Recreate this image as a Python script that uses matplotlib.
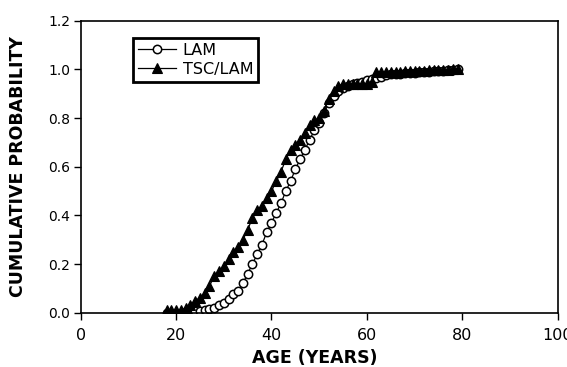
import numpy as np
import matplotlib
matplotlib.use("Agg")
import matplotlib.pyplot as plt

plt.rcParams['font.family'] = ['DejaVu Sans']

# ages (years) where the cumulative curves were read
ages = list(range(18, 80))

lam = [0.0, 0.0, 0.0, 0.0, 0.0, 0.0, 0.005, 0.008, 0.01, 0.015,
       0.02, 0.03, 0.04, 0.055, 0.075, 0.09, 0.12, 0.16, 0.2, 0.24,
       0.28, 0.33, 0.37, 0.41, 0.45, 0.5, 0.54, 0.59, 0.63, 0.67,
       0.71, 0.75, 0.78, 0.82, 0.86, 0.89, 0.91, 0.925, 0.93, 0.94,
       0.945, 0.95, 0.955, 0.96, 0.965, 0.97, 0.975, 0.98, 0.98, 0.982,
       0.984, 0.985, 0.986, 0.988, 0.99, 0.99, 0.992, 0.994, 0.995, 0.997,
       0.998, 1.0]

tsc_lam = [0.01, 0.01, 0.01, 0.01, 0.02, 0.03, 0.05, 0.06, 0.08, 0.11,
           0.15, 0.17, 0.19, 0.22, 0.25, 0.27, 0.30, 0.34, 0.39, 0.42,
           0.44, 0.47, 0.50, 0.54, 0.58, 0.63, 0.67, 0.69, 0.71, 0.74,
           0.77, 0.79, 0.80, 0.83, 0.88, 0.91, 0.93, 0.94, 0.94, 0.94,
           0.94, 0.94, 0.94, 0.95, 0.99, 0.99, 0.99, 0.99, 0.99, 0.99,
           0.992, 0.993, 0.994, 0.995, 0.995, 0.996, 0.997, 0.998, 0.998, 0.999,
           1.0, 1.0]

x_ticks = [0, 20, 40, 60, 80, 100]
y_ticks = [0.0, 0.2, 0.4, 0.6, 0.8, 1.0, 1.2]

fig = plt.figure(figsize=(5.67, 3.67), dpi=100)
ax = fig.add_axes([0.1423, 0.148, 0.8413, 0.7956])

ax.plot(ages, lam, color='k', lw=0.9, marker='o', ms=6.0, mfc='white',
        mec='k', mew=1.1, label='LAM', zorder=2)
ax.plot(ages, tsc_lam, color='k', lw=0.9, marker='^', ms=6.8, mfc='k',
        mec='k', mew=0.8, label='TSC/LAM', zorder=3)

ax.set_xlim(0, 100)
ax.set_ylim(0, 1.2)
ax.set_xticks(x_ticks)
ax.set_yticks(y_ticks)
ax.set_yticklabels(['%.1f' % v for v in y_ticks])
ax.tick_params(direction='out', length=5, width=1.0, colors='k')
ax.tick_params(axis='x', labelsize=11.5, pad=6)
ax.tick_params(axis='y', labelsize=10, pad=2.5)

for s in ax.spines.values():
    s.set_linewidth(1.2)
    s.set_color('k')

ax.set_xlabel('AGE (YEARS)', fontsize=12.5, fontweight='bold')
ax.set_ylabel('CUMULATIVE PROBABILITY', fontsize=12.5, fontweight='bold')
ax.xaxis.set_label_coords(0.49, -0.126)
ax.yaxis.set_label_coords(-0.112, 0.5)

leg = ax.legend(loc='upper left', bbox_to_anchor=(0.11, 0.941), fontsize=11.5,
                frameon=True, fancybox=False, handlelength=2.4,
                borderpad=0.3, labelspacing=0.25, handletextpad=0.4,
                borderaxespad=0, framealpha=1)
leg.get_frame().set_edgecolor('k')
leg.get_frame().set_linewidth(2.0)

fig.savefig('out.png', dpi=100)
